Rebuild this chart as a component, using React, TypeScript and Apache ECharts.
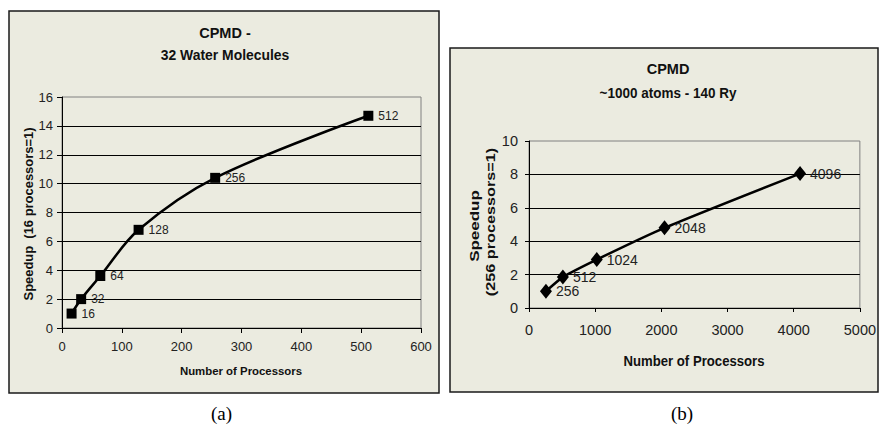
import React, { useEffect, useRef } from "react";
import * as echarts from "echarts";

// Chart (a): CPMD - 32 Water Molecules
const procsA = [16, 32, 64, 128, 256, 512];
const speedupA = [1.0, 2.0, 3.6, 6.8, 10.4, 14.7];
// Chart (b): CPMD ~1000 atoms - 140 Ry
const procsB = [256, 512, 1024, 2048, 4096];
const speedupB = [1.0, 1.85, 2.9, 4.8, 8.05];

const titleA = ["CPMD -", "32 Water Molecules"];
const titleB = ["CPMD", "~1000 atoms - 140 Ry"];
const xNameA = "Number of Processors";
const yNameA = "Speedup  (16 processors=1)";
const xNameB = "Number of Processors";
const yNameB = ["Speedup", "(256 processors=1)"];
const captions = ["(a)", "(b)"];

const BG = "#EBEBE0";
const SANS = "'Liberation Sans', Arial, sans-serif";

export default function App() {
  const ref = useRef<HTMLDivElement>(null);
  useEffect(() => {
    if (!ref.current) return;
    const chart = echarts.init(ref.current, undefined, { renderer: "svg" });

    const txt = (
      text: string,
      x: number,
      y: number,
      size: number,
      opts: any = {}
    ) => ({
      type: "text",
      x,
      y,
      rotation: opts.rotation || 0,
      scaleX: opts.scaleX || 1,
      scaleY: opts.scaleY || 1,
      z: 20,
      style: {
        text,
        x: 0,
        y: 0,
        fill: opts.color || "#111",
        font: `${opts.bold === false ? "normal" : "bold"} ${size}px ${opts.family || SANS}`,
        align: "center",
        verticalAlign: "middle",
      },
    });

    const axisCommon = (labelSize: number, margin: number, tickLen: number) => ({
      type: "value",
      axisLine: { show: true, lineStyle: { color: "#000", width: 1 } },
      axisTick: { show: true, inside: false, length: tickLen, lineStyle: { color: "#000", width: 1 } },
      axisLabel: {
        fontSize: labelSize,
        fontFamily: SANS,
        color: "#222",
        margin,
        formatter: (v: number) => String(v),
      },
    });

    chart.setOption({
      animation: false,
      backgroundColor: "#fff",
      grid: [
        { left: 62, top: 97, width: 359, height: 231, show: true, backgroundColor: BG, borderColor: "#808080", borderWidth: 1 },
        { left: 529, top: 141, width: 331, height: 167, show: true, backgroundColor: BG, borderColor: "#808080", borderWidth: 1 },
      ],
      xAxis: [
        { ...axisCommon(13, 12, 5), gridIndex: 0, min: 0, max: 600, interval: 100, splitLine: { show: false } },
        { ...axisCommon(14.5, 14, 4), gridIndex: 1, min: 0, max: 5000, interval: 1000, splitLine: { show: false } },
      ],
      yAxis: [
        {
          ...axisCommon(13, 9, 5),
          gridIndex: 0, min: 0, max: 16, interval: 2,
          splitLine: { show: true, showMinLine: false, showMaxLine: false, lineStyle: { color: "#000", width: 1 } },
        },
        {
          ...axisCommon(14.5, 11, 4),
          gridIndex: 1, min: 0, max: 10, interval: 2,
          splitLine: { show: true, showMinLine: false, showMaxLine: false, lineStyle: { color: "#000", width: 1 } },
        },
      ],
      series: [
        {
          type: "line",
          xAxisIndex: 0,
          yAxisIndex: 0,
          data: procsA.map((p, i) => [p, speedupA[i]]),
          smooth: 0.35,
          symbol: "rect",
          symbolSize: 10,
          z: 5,
          lineStyle: { color: "#000", width: 2.5 },
          itemStyle: { color: "#000" },
          label: {
            show: true,
            position: "right",
            distance: 5,
            fontSize: 12,
            fontFamily: SANS,
            color: "#222",
            formatter: (p: any) => String(p.value[0]),
          },
        },
        {
          type: "line",
          xAxisIndex: 1,
          yAxisIndex: 1,
          data: procsB.map((p, i) => [p, speedupB[i]]),
          smooth: 0.2,
          symbol: "diamond",
          symbolSize: [12, 15],
          z: 5,
          lineStyle: { color: "#000", width: 2.5 },
          itemStyle: { color: "#000" },
          label: {
            show: true,
            position: "right",
            distance: 4,
            fontSize: 14,
            fontFamily: SANS,
            color: "#222",
            formatter: (p: any) => String(p.value[0]),
          },
        },
      ],
      graphic: [
        {
          type: "rect",
          z: -10,
          shape: { x: 9, y: 11, width: 430, height: 382 },
          style: { fill: BG, stroke: "#1a1a1a", lineWidth: 1.5 },
        },
        {
          type: "rect",
          z: -10,
          shape: { x: 450, y: 48, width: 428, height: 344 },
          style: { fill: BG, stroke: "#1a1a1a", lineWidth: 1.5 },
        },
        txt(titleA[0], 225, 33, 14.5),
        txt(titleA[1], 225, 55, 14.5, { scaleX: 0.96 }),
        txt(titleB[0], 668, 69, 14.5),
        txt(titleB[1], 668, 93, 14.5, { scaleX: 0.93 }),
        txt(xNameA, 241, 371, 11.4),
        txt(yNameA, 29, 214, 12, { rotation: Math.PI / 2, scaleX: 1.08 }),
        txt(xNameB, 694, 361, 14, { scaleX: 0.94 }),
        txt(yNameB[0], 474, 226, 12.5, { rotation: Math.PI / 2, scaleX: 1.36 }),
        txt(yNameB[1], 491, 222, 12.5, { rotation: Math.PI / 2, scaleX: 1.3 }),
        txt(captions[0], 221.5, 413, 19, { bold: false, family: "'Liberation Serif', 'Times New Roman', serif", color: "#000" }),
        txt(captions[1], 682, 413, 19, { bold: false, family: "'Liberation Serif', 'Times New Roman', serif", color: "#000" }),
      ],
    });

    return () => chart.dispose();
  }, []);

  return (
    <div
      ref={ref}
      style={{ position: "absolute", left: 0, top: 0, width: 879, height: 426 }}
    />
  );
}
